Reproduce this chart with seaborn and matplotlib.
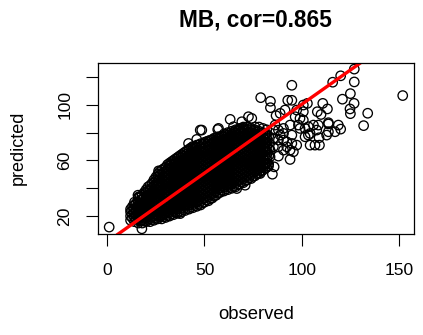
import matplotlib
matplotlib.use('Agg')
import matplotlib.pyplot as plt
import seaborn as sns
import pandas as pd

# dense cloud, one predicted list for each observed value
cloud_observed = [12, 14, 16, 18, 20, 22, 24, 26, 28, 30, 32, 34, 36, 38, 40, 42, 44, 46, 48,
                  50, 52, 54, 56, 58, 60, 62, 64, 66, 68, 70, 72, 74, 76, 78, 80, 82]
cloud_predicted = [
    [17, 20, 23, 25],
    [16, 19, 22, 25, 28, 30],
    [15, 18, 21, 24, 27, 30, 33],
    [15, 17, 20, 23, 26, 29, 32, 35],
    [16, 19, 22, 25, 28, 31, 34, 37, 39],
    [16, 18, 21, 24, 27, 30, 33, 36, 39, 42],
    [17, 20, 23, 26, 29, 32, 35, 38, 41, 44, 46],
    [18, 21, 24, 27, 30, 33, 36, 39, 42, 45, 48, 50],
    [18, 20, 23, 26, 29, 32, 35, 38, 41, 44, 47, 50, 53],
    [19, 22, 25, 28, 31, 34, 37, 40, 43, 46, 49, 52, 55],
    [20, 23, 26, 29, 32, 35, 38, 41, 44, 47, 50, 53, 56, 58],
    [21, 24, 27, 30, 33, 36, 39, 42, 45, 48, 51, 54, 57, 60],
    [22, 25, 28, 31, 34, 37, 40, 43, 46, 49, 52, 55, 58, 61, 62],
    [23, 26, 29, 32, 35, 38, 41, 44, 47, 50, 53, 56, 59, 62, 64],
    [24, 27, 30, 33, 36, 39, 42, 45, 48, 51, 54, 57, 60, 63, 66],
    [25, 28, 31, 34, 37, 40, 43, 46, 49, 52, 55, 58, 61, 64, 67, 68],
    [26, 29, 32, 35, 38, 41, 44, 47, 50, 53, 56, 59, 62, 65, 68, 70],
    [27, 30, 33, 36, 39, 42, 45, 48, 51, 54, 57, 60, 63, 66, 69, 71],
    [28, 31, 34, 37, 40, 43, 46, 49, 52, 55, 58, 61, 64, 67, 70, 72],
    [30, 33, 36, 39, 42, 45, 48, 51, 54, 57, 60, 63, 66, 69, 72, 73],
    [31, 34, 37, 40, 43, 46, 49, 52, 55, 58, 61, 64, 67, 70, 73, 74],
    [33, 36, 39, 42, 45, 48, 51, 54, 57, 60, 63, 66, 69, 72, 75],
    [35, 38, 41, 44, 47, 50, 53, 56, 59, 62, 65, 68, 71, 74, 76],
    [37, 40, 43, 46, 49, 52, 55, 58, 61, 64, 67, 70, 73, 76, 77],
    [38, 41, 44, 47, 50, 53, 56, 59, 62, 65, 68, 71, 74, 77, 79],
    [39, 42, 45, 48, 51, 54, 57, 60, 63, 66, 69, 72, 75, 78, 80],
    [40, 43, 46, 49, 52, 55, 58, 61, 64, 67, 70, 73, 76, 79, 81],
    [41, 44, 47, 50, 53, 56, 59, 62, 65, 68, 71, 74, 77, 80, 82],
    [43, 46, 49, 52, 55, 58, 61, 64, 67, 70, 73, 76, 79, 82, 83],
    [44, 47, 50, 53, 56, 59, 62, 65, 68, 71, 74, 77, 80, 83, 84],
    [46, 49, 52, 55, 58, 61, 64, 67, 70, 73, 76, 79, 82, 84],
    [47, 50, 53, 56, 59, 62, 65, 68, 71, 74, 77, 80, 83],
    [49, 52, 55, 58, 61, 64, 67, 70, 73, 76, 79, 82, 84],
    [51, 54, 57, 60, 63, 66, 69, 72, 75, 78, 81, 84],
    [53, 56, 59, 62, 65, 68, 71, 74, 77, 80, 83],
    [55, 58, 61, 64, 67, 70, 73, 76, 79, 82],
]

# the same cloud between those columns, it has to read as solid black
cloud_observed_b = [13, 15, 17, 19, 21, 23, 25, 27, 29, 31, 33, 35, 37, 39, 41, 43, 45, 47, 49,
                    51, 53, 55, 57, 59, 61, 63, 65, 67, 69, 71, 73, 75, 77, 79, 81, 83]
cloud_predicted_b = [
    [18.5, 21.5, 24.5, 27],
    [17.5, 20.5, 23.5, 26.5, 29.5],
    [16.5, 19.5, 22.5, 25.5, 28.5, 31.5, 34],
    [16.5, 18.5, 21.5, 24.5, 27.5, 30.5, 33.5, 37],
    [17.5, 20.5, 23.5, 26.5, 29.5, 32.5, 35.5, 38.5, 41],
    [17.5, 19.5, 22.5, 25.5, 28.5, 31.5, 34.5, 37.5, 40.5, 43.5],
    [18.5, 21.5, 24.5, 27.5, 30.5, 33.5, 36.5, 39.5, 42.5, 45.5, 48],
    [19.5, 22.5, 25.5, 28.5, 31.5, 34.5, 37.5, 40.5, 43.5, 46.5, 49.5, 52],
    [19.5, 21.5, 24.5, 27.5, 30.5, 33.5, 36.5, 39.5, 42.5, 45.5, 48.5, 51.5, 54],
    [20.5, 23.5, 26.5, 29.5, 32.5, 35.5, 38.5, 41.5, 44.5, 47.5, 50.5, 53.5, 57],
    [21.5, 24.5, 27.5, 30.5, 33.5, 36.5, 39.5, 42.5, 45.5, 48.5, 51.5, 54.5, 57.5, 59],
    [22.5, 25.5, 28.5, 31.5, 34.5, 37.5, 40.5, 43.5, 46.5, 49.5, 52.5, 55.5, 58.5, 61],
    [23.5, 26.5, 29.5, 32.5, 35.5, 38.5, 41.5, 44.5, 47.5, 50.5, 53.5, 56.5, 59.5, 63],
    [24.5, 27.5, 30.5, 33.5, 36.5, 39.5, 42.5, 45.5, 48.5, 51.5, 54.5, 57.5, 60.5, 63.5, 65],
    [25.5, 28.5, 31.5, 34.5, 37.5, 40.5, 43.5, 46.5, 49.5, 52.5, 55.5, 58.5, 61.5, 64.5, 67],
    [26.5, 29.5, 32.5, 35.5, 38.5, 41.5, 44.5, 47.5, 50.5, 53.5, 56.5, 59.5, 62.5, 65.5, 69],
    [27.5, 30.5, 33.5, 36.5, 39.5, 42.5, 45.5, 48.5, 51.5, 54.5, 57.5, 60.5, 63.5, 66.5, 70],
    [28.5, 31.5, 34.5, 37.5, 40.5, 43.5, 46.5, 49.5, 52.5, 55.5, 58.5, 61.5, 64.5, 67.5, 71],
    [29.5, 32.5, 35.5, 38.5, 41.5, 44.5, 47.5, 50.5, 53.5, 56.5, 59.5, 62.5, 65.5, 68.5, 71.5],
    [31.5, 34.5, 37.5, 40.5, 43.5, 46.5, 49.5, 52.5, 55.5, 58.5, 61.5, 64.5, 67.5, 70.5, 73.5],
    [32.5, 35.5, 38.5, 41.5, 44.5, 47.5, 50.5, 53.5, 56.5, 59.5, 62.5, 65.5, 68.5, 71.5, 74.5],
    [34.5, 37.5, 40.5, 43.5, 46.5, 49.5, 52.5, 55.5, 58.5, 61.5, 64.5, 67.5, 70.5, 73.5, 76],
    [36.5, 39.5, 42.5, 45.5, 48.5, 51.5, 54.5, 57.5, 60.5, 63.5, 66.5, 69.5, 72.5, 75.5, 77],
    [38.5, 41.5, 44.5, 47.5, 50.5, 53.5, 56.5, 59.5, 62.5, 65.5, 68.5, 71.5, 74.5, 77.5],
    [39.5, 42.5, 45.5, 48.5, 51.5, 54.5, 57.5, 60.5, 63.5, 66.5, 69.5, 72.5, 75.5, 78.5],
    [40.5, 43.5, 46.5, 49.5, 52.5, 55.5, 58.5, 61.5, 64.5, 67.5, 70.5, 73.5, 76.5, 79.5],
    [41.5, 44.5, 47.5, 50.5, 53.5, 56.5, 59.5, 62.5, 65.5, 68.5, 71.5, 74.5, 77.5, 80.5],
    [42.5, 45.5, 48.5, 51.5, 54.5, 57.5, 60.5, 63.5, 66.5, 69.5, 72.5, 75.5, 78.5, 81.5],
    [44.5, 47.5, 50.5, 53.5, 56.5, 59.5, 62.5, 65.5, 68.5, 71.5, 74.5, 77.5, 80.5, 83],
    [45.5, 48.5, 51.5, 54.5, 57.5, 60.5, 63.5, 66.5, 69.5, 72.5, 75.5, 78.5, 81.5],
    [47.5, 50.5, 53.5, 56.5, 59.5, 62.5, 65.5, 68.5, 71.5, 74.5, 77.5, 80.5, 83],
    [48.5, 51.5, 54.5, 57.5, 60.5, 63.5, 66.5, 69.5, 72.5, 75.5, 78.5, 81.5],
    [50.5, 53.5, 56.5, 59.5, 62.5, 65.5, 68.5, 71.5, 74.5, 77.5, 80.5],
    [52.5, 55.5, 58.5, 61.5, 64.5, 67.5, 70.5, 73.5, 76.5, 79.5],
    [54.5, 57.5, 60.5, 63.5, 66.5, 69.5, 72.5, 75.5, 78.5],
    [57.5, 63.5, 68.5, 72.5, 77.5],
]

# points that stand clear of the cloud
outlier_observed = [151.9, 127.0, 120.0, 115.9, 127.0, 94.9, 125.0, 120.9, 126.9, 124.8, 125.0, 133.9, 131.8,
                    78.9, 83.9, 83.9, 92.8, 94.9, 102.9, 100.8, 110.8, 113.2, 108.0, 109.9, 91.4, 88.9, 86.8,
                    99.1, 100.8, 98.3, 101.7, 106.0, 108.5, 107.7, 113.7, 113.7, 118.8, 120.0, 117.1, 113.7,
                    112.8, 103.4, 101.7, 108.9, 104.3, 109.1, 106.8, 97.4, 94.0, 95.7, 88.0, 85.8, 84.9, 82.9,
                    90.6, 94.0, 90.6, 92.3, 88.0, 85.4, 86.3, 94.9, 88.9, 83.7, 80.3, 78.6, 74.3, 90.6, 94.0,
                    88.0, 85.4, 85.4, 83.7, 90.6, 97.4, 96.6, 100.8, 103.4, 104.3, 99.1, 88.0, 92.3, 94.9,
                    1.0, 15.8, 16.1, 17.8, 48.6, 47.8, 57.2, 56.8, 63.2, 69.2, 64.9, 66.6, 70.9, 37.5, 46.0,
                    41.8, 26.4, 72.6, 61.5]
outlier_predicted = [106.6, 125.6, 120.8, 116.2, 116.4, 114.0, 108.0, 104.0, 101.0, 97.0, 93.6, 93.9, 85.0,
                     105.1, 102.5, 97.9, 103.2, 103.2, 101.0, 99.8, 101.0, 97.0, 95.0, 93.0, 96.2, 93.8, 92.2,
                     90.2, 89.0, 85.4, 83.0, 85.4, 85.4, 81.8, 86.2, 87.1, 85.4, 82.5, 80.6, 80.6,
                     78.2, 78.2, 77.0, 76.3, 71.0, 71.0, 71.0, 71.0, 60.7, 66.2, 63.1, 55.4, 50.1, 55.9,
                     79.4, 85.4, 74.6, 69.8, 69.8, 81.8, 85.4, 78.2, 78.2, 67.4, 57.8, 50.6, 90.2, 67.4, 67.4,
                     74.6, 75.8, 69.8, 62.6, 83.0, 96.2, 91.4, 95.0, 84.2, 79.4, 83.0, 81.8, 73.4, 72.2,
                     12.1, 35.0, 33.8, 10.9, 81.8, 81.8, 83.0, 82.2, 89.5, 87.8, 84.2, 39.8, 42.2, 21.8, 75.1,
                     72.2, 52.5, 91.4, 75.8]

fit_observed = [5, 131]
fit_predicted = [6.5, 130.9]

x_ticks = [0, 50, 100, 150]
y_ticks = [20, 40, 60, 80, 100, 120]
y_tick_labels = ['20', '', '60', '', '100', '']

observed = list(outlier_observed)
predicted = list(outlier_predicted)
for obs, preds in zip(cloud_observed + cloud_observed_b, cloud_predicted + cloud_predicted_b):
    observed += [obs] * len(preds)
    predicted += preds
df = pd.DataFrame({'observed': observed, 'predicted': predicted})

sns.set_style('ticks')
plt.rcParams['font.family'] = ['Liberation Sans', 'DejaVu Sans']

fig = plt.figure(figsize=(4.23, 3.35), dpi=100)
ax = fig.add_axes([97.5 / 423, 1 - 233.5 / 335, 316.5 / 423, 170.5 / 335])

sns.scatterplot(data=df, x='observed', y='predicted', ax=ax, s=46, facecolor='none',
                edgecolor='black', linewidth=0.95)
sns.lineplot(x=fit_observed, y=fit_predicted, ax=ax, color='#ff0000', linewidth=2.4)

ax.set_xlim(-5, 157.7)
ax.set_ylim(7.5, 130)
ax.set_xticks(x_ticks)
ax.set_yticks(y_ticks)
ax.set_yticklabels(y_tick_labels, rotation=90, va='center')
ax.tick_params(length=8.5, width=0.8, color='black', labelsize=12.6, labelcolor='black')
ax.tick_params(axis='x', pad=13)
ax.tick_params(axis='y', pad=9.5)
for s in ax.spines.values():
    s.set_visible(True)
    s.set_linewidth(0.9)
    s.set_color('black')

ax.set_xlabel('observed', fontsize=13.3, labelpad=20, color='black')
ax.set_ylabel('predicted', fontsize=13, labelpad=22, color='black')
fig.text(255.5 / 423, 1 - 20 / 335, 'MB, cor=0.865', fontsize=16.3, fontweight='bold', ha='center', va='center', color='black')

fig.savefig('out.png', dpi=100)
